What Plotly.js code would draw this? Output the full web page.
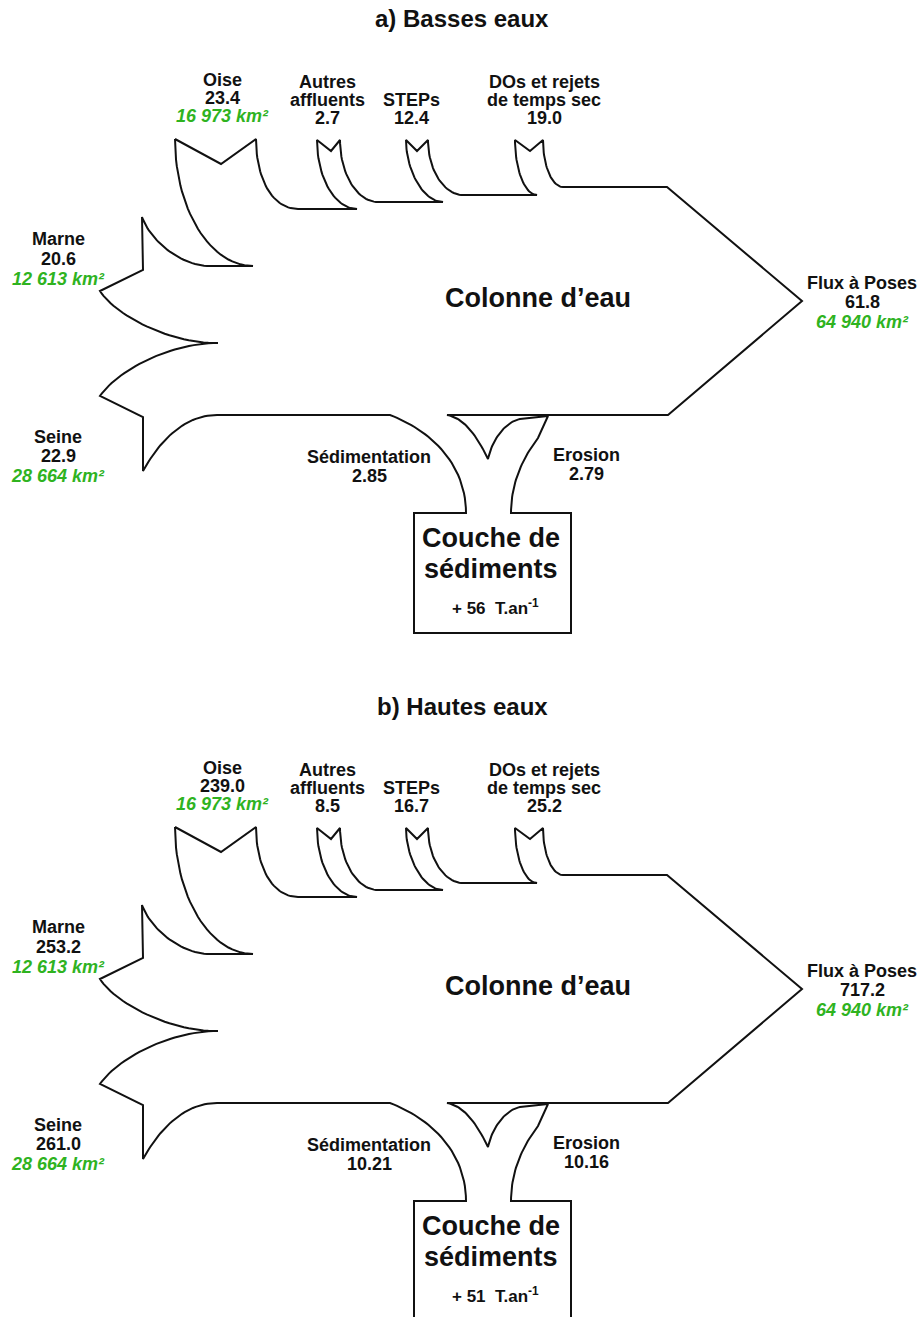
<!DOCTYPE html>
<html><head><meta charset="utf-8">
<script src="https://cdn.plot.ly/plotly-3.0.1.min.js"></script>
<style>body{margin:0;background:#fff}</style>
</head><body><div id="chart" style="width:921px;height:1317px"></div>
<script>
// ---------------- DATA ----------------
const panelTitles = ["a) Basses eaux", "b) Hautes eaux"];
const nodeLabelLines = [["Oise"], ["Autres", "affluents"], ["STEPs"], ["DOs et rejets", "de temps sec"],
                        ["Marne"], ["Seine"], ["Flux à Poses"], ["Sédimentation"], ["Erosion"]];
const lowWaterFlux  = [23.4, 2.7, 12.4, 19.0, 20.6, 22.9, 61.8, 2.85, 2.79];
const highWaterFlux = [239.0, 8.5, 16.7, 25.2, 253.2, 261.0, 717.2, 10.21, 10.16];
const fluxDecimals  = [1, 1, 1, 1, 1, 1, 1, 2, 2];
const basinAreaKm2  = [16973, null, null, null, 12613, 28664, 64940, null, null];
const sedimentBalance = [56, 51];          // T.an-1
const boxTexts = ["Colonne d’eau", "Couche de", "sédiments"];

// ---------------- LAYOUT / GEOMETRY ----------------
const panelOffset = 688;
const FONT = "Liberation Sans, Arial, sans-serif";
const GREEN = "#2fb31f";
const labelPos = [
  {x: 222, y: [80, 98, 116]},
  {x: 327, y: [82, 100, 118]},
  {x: 411, y: [100, 118]},
  {x: 544, y: [82, 100, 118]},
  {x: 58,  y: [239, 259, 279]},
  {x: 58,  y: [437, 456, 476]},
  {x: 862, y: [283, 302, 322]},
  {x: 369, y: [457, 476]},
  {x: 586, y: [455, 474]}
];
const outline = [
 ['M',175,139],['L',221,164],['L',256,139],
 ['C',256,178,272,209,298,209],['L',357,209],
 ['C',335,209,317,178,317,140],['L',331,151],['L',340,140],
 ['C',340,174,357,202,378,202],['L',443,202],
 ['C',423,202,406,170,406,140],['L',417,151],['L',428,140],
 ['C',428,170,444,195,463,195],['L',537,195],
 ['C',525,195,515,170,515,140],['L',530,151],['L',543,140],
 ['C',543,166,552,187,563,187],['L',667,187],
 ['L',802,301],['L',668,415],['L',447,415],
 ['C',465,418,478,438,488,459],
 ['C',492,440,505,422,520,419],['L',548,416],['L',538,438],
 ['C',525,455,511,480,511,513],
 ['L',571,513],['L',571,633],['L',414,633],['L',414,513],['L',466,513],
 ['C',466,460,425,428,390,415],['L',217,415],
 ['C',185,415,160,440,143,471],['L',143,417],['L',100,396],
 ['C',118,370,170,343,218,343],
 ['C',170,344,115,315,100,291],['L',143,270],['L',142,217],
 ['C',150,240,180,266,210,266],['L',253,266],
 ['C',210,266,175,209,175,139]
];

function buildOutline(dy) {
  const xs = [], ys = [];
  let cur = null;
  for (const c of outline) {
    if (c[0] === 'M' || c[0] === 'L') {
      cur = [c[1], c[2]]; xs.push(cur[0]); ys.push(cur[1] + dy);
    } else if (c[0] === 'C') {
      const p0 = cur, p1 = [c[1], c[2]], p2 = [c[3], c[4]], p3 = [c[5], c[6]];
      const n = 30;
      for (let i = 1; i <= n; i++) {
        const t = i / n, u = 1 - t;
        const x = u*u*u*p0[0] + 3*u*u*t*p1[0] + 3*u*t*t*p2[0] + t*t*t*p3[0];
        const y = u*u*u*p0[1] + 3*u*u*t*p1[1] + 3*u*t*t*p2[1] + t*t*t*p3[1];
        xs.push(x); ys.push(y + dy);
      }
      cur = p3;
    }
  }
  xs.push(xs[0]); ys.push(ys[0]);
  return {xs, ys};
}

function fmtArea(v) {
  return String(v).replace(/\B(?=(\d{3})+(?!\d))/g, " ") + " km²";
}

const traces = [];
const annotations = [];
const datasets = [lowWaterFlux, highWaterFlux];

function ann(x, y, text, size, color) {
  annotations.push({x: x, y: y, text: text, showarrow: false,
    font: {family: FONT, size: size, color: color || '#111'}, xanchor: 'center', yanchor: 'middle'});
}

for (let p = 0; p < 2; p++) {
  const dy = p * panelOffset;
  const o = buildOutline(dy);
  traces.push({x: o.xs, y: o.ys, type: 'scatter', mode: 'lines',
               line: {color: '#111', width: 2}, hoverinfo: 'skip'});
  ann(462, 18 + dy, '<b>' + panelTitles[p] + '</b>', 24);
  const vals = datasets[p];
  for (let i = 0; i < nodeLabelLines.length; i++) {
    const lines = nodeLabelLines[i].map(s => ({t: '<b>' + s + '</b>', c: '#111'}));
    lines.push({t: '<b>' + vals[i].toFixed(fluxDecimals[i]) + '</b>', c: '#111'});
    if (basinAreaKm2[i] !== null) lines.push({t: '<b><i>' + fmtArea(basinAreaKm2[i]) + '</i></b>', c: GREEN});
    lines.forEach((ln, k) => ann(labelPos[i].x, labelPos[i].y[k] + dy, ln.t, 18, ln.c));
  }
  ann(538, 298 + dy, '<b>' + boxTexts[0] + '</b>', 27);
  ann(491, 538 + dy, '<b>' + boxTexts[1] + '</b>', 27);
  ann(491, 569 + dy, '<b>' + boxTexts[2] + '</b>', 27);
  ann(495, 607 + dy, '<b>+ ' + sedimentBalance[p] + '&nbsp; T.an<sup>-1</sup></b>', 17);
}

const layout = {
  width: 921, height: 1317,
  margin: {l: 0, r: 0, t: 0, b: 0},
  paper_bgcolor: '#fff', plot_bgcolor: '#fff',
  showlegend: false,
  xaxis: {range: [0, 921], visible: false, fixedrange: true},
  yaxis: {range: [1317, 0], visible: false, fixedrange: true},
  annotations: annotations
};
Plotly.newPlot('chart', traces, layout, {staticPlot: true, displayModeBar: false});
</script>
</body></html>
